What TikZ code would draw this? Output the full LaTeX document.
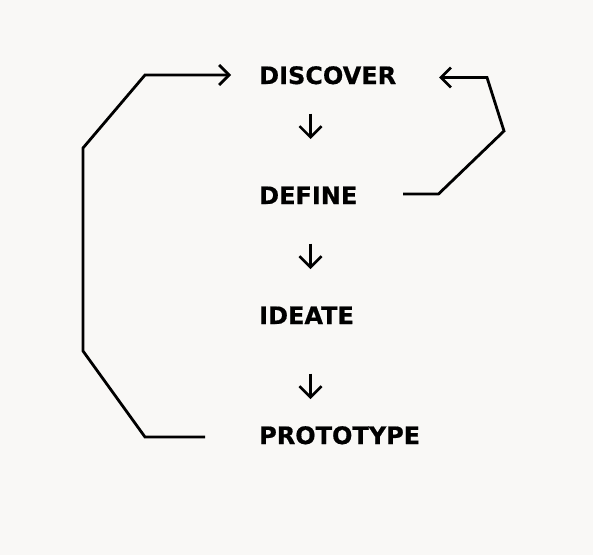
\documentclass[tikz,border=0pt]{standalone}
\usepackage{fontspec}
\setmainfont{DejaVu Sans}
\newfontfamily\lblfont[FakeBold=0.6]{DejaVu Sans Bold}
\usetikzlibrary{arrows.meta}
\definecolor{bgcol}{HTML}{F9F8F6}
\tikzset{
  lbl/.style={font=\lblfont\fontsize{24}{28}\selectfont, inner sep=0pt, anchor=base west, text=black},
  loopline/.style={line width=2.8pt, line join=miter, -{Straight Barb[length=10pt,width=20pt]}},
  downarrow/.style={line width=2.5pt, -{Straight Barb[length=11pt,width=22pt]}}
}
\begin{document}
\begin{tikzpicture}[x=1pt,y=-1pt]
\fill[bgcol] (0,0) rectangle (593,555);
\useasboundingbox (0,0) rectangle (593,555);
\node[lbl] (discover) at (259,84) {DISCOVER};
\node[lbl] (define) at (259,204) {DEFINE};
\node[lbl] (ideate) at (259,324) {IDEATE};
\node[lbl] (prototype) at (259,444) {PROTOTYPE};
% down arrows
\coordinate (d1a) at (310.5,113.5); \coordinate (d1b) at (310.5,139);
\coordinate (d2a) at (310.5,243.5); \coordinate (d2b) at (310.5,269);
\coordinate (d3a) at (310.5,373.5); \coordinate (d3b) at (310.5,399);
\draw[downarrow] (d1a) -- (d1b);
\draw[downarrow] (d2a) -- (d2b);
\draw[downarrow] (d3a) -- (d3b);
% left loop
\coordinate (lstart) at (205,437);
\coordinate (lend) at (231,75);
\draw[loopline] (lstart) -- (145,437) -- (83,351) -- (83,148) -- (145,75) -- (lend);
% right loop
\coordinate (rstart) at (403,194);
\coordinate (rend) at (439,77.5);
\draw[loopline] (rstart) -- (438.5,194) -- (504,131) -- (487,77.5) -- (rend);
\end{tikzpicture}
\end{document}
